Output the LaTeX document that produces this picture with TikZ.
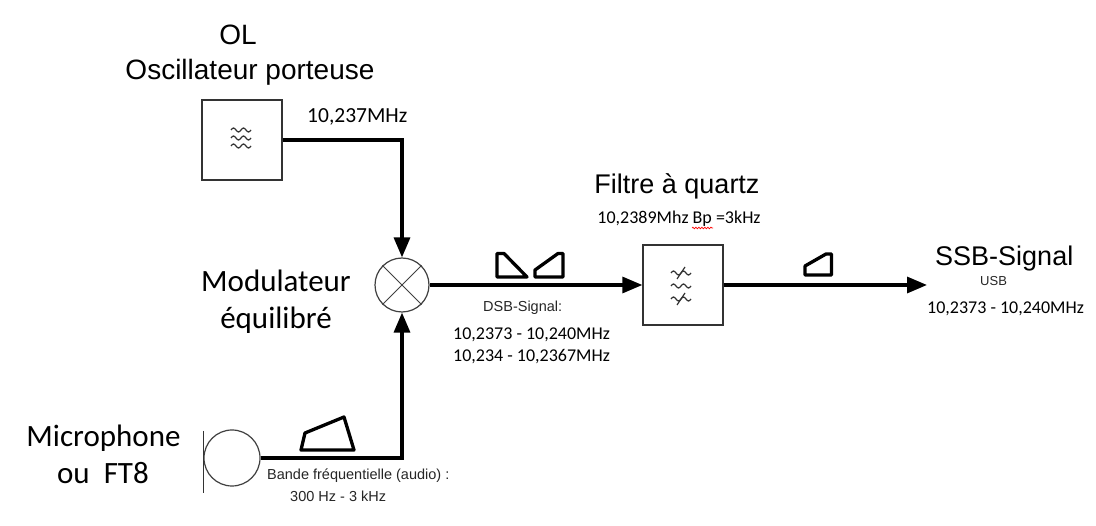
\documentclass[tikz,border=0pt]{standalone}
\usepackage{fontspec}
\setmainfont{Carlito}
\newfontfamily\arialfont{Liberation Sans}
\usetikzlibrary{arrows.meta, decorations.pathmorphing}

\tikzset{
    block/.style={draw=black!80, line width=1.3, minimum size=80, inner sep=0},
    wire/.style={line width=3.3},
    band/.style={line width=3.3, line join=round},
    big/.style={font=\fontsize{31}{37}\selectfont},
    arialbig/.style={font=\arialfont\fontsize{28}{34}\selectfont},
    arialmid/.style={font=\arialfont\fontsize{27}{32}\selectfont},
    num/.style={font=\fontsize{18}{22}\selectfont},
    note/.style={font=\arialfont\fontsize{14.5}{17}\selectfont, text=black!85},
    ripple/.pic={\draw[line width=1.2, black!80] (-10,0) sin (-7.5,-2) cos (-5,0) sin (-2.5,2) cos (0,0) sin (2.5,-2) cos (5,0) sin (7.5,2) cos (10,0);},
    slash/.pic={\draw[line width=1.2, black!80] (-4,6) -- (4,-6);}
}

\begin{document}
\begin{tikzpicture}[x=1pt, y=-1pt, >={Triangle[length=20pt, width=16pt]}, inner sep=0]
    \path[fill=white, use as bounding box] (0,0) rectangle (1096,526);

    % blocks
    \node[block] (osc) at (242,140) {};
    \node[block] (filt) at (683,285) {};
    \node[circle, draw=black!75, line width=1.2, minimum size=54] (mix) at (402,285) {};
    \node[circle, draw=black!75, line width=1.2, minimum size=56] (mic) at (232,458) {};
    \coordinate (ssb) at (927,285);

    % symbols
    \draw[line width=1, black!75] (mix.north west) -- (mix.south east) (mix.north east) -- (mix.south west);
    \draw[line width=1.2, black!80] (mic.west) ++(0,-27) -- ++(0,62);
    \foreach \dy in {-8,0,8}
        \path (osc) ++(-1,\dy-2) pic {ripple};
    \foreach \dy in {-13,0,13}
        \path (filt) ++(-2,\dy+1) pic {ripple};
    \path (filt) ++(-2,-12) pic {slash} (filt) ++(-2,14) pic {slash};

    % connectors
    \draw[wire,->] (osc.east) -| (mix.north);
    \draw[wire,->] (mic.east) -| (mix.south);
    \draw[wire,->] (mix.east) -- (filt.west);
    \draw[wire,->] (filt.east) -- (ssb);

    % spectra
    \draw[band] (305,433) -- (344,417) -- (354,450) -- (301,450) -- cycle;
    \draw[band] (497,253.5) -- (504,253.5) -- (527,277) -- (497,277) -- cycle;
    \draw[band] (535,277) -- (535,270) -- (558,253.5) -- (563,253.5) -- (563,277) -- cycle;
    \draw[band] (805,275) -- (805,266) -- (826,254) -- (831.5,254) -- (831.5,275) -- cycle;

    % labels
    \node[arialbig, anchor=base] (olname) at (238,45) {OL};
    \node[arialbig, anchor=base] (oscname) at (250,80) {Oscillateur porteuse};
    \node[font=\fontsize{21.5}{26}\selectfont, anchor=base west] (olfreq) at (307,123) {10,237MHz};
    \node[big, anchor=base] (modname) at (276,292) {Modulateur};
    \node[big, anchor=base] (modkind) at (276,328.5) {équilibré};
    \node[big, anchor=base] (micname) at (103.5,446.7) {Microphone};
    \node[big, anchor=base] (micalt) at (103,484) {ou~~FT8};
    \node[arialmid, anchor=base] (filtname) at (677,193.3) {Filtre à quartz};
    \node[num, anchor=base] (filtfreq) at (679,224) {10,2389Mhz Bp =3kHz};
    \draw[red, line width=0.7, decorate, decoration={snake, amplitude=0.8, segment length=3}] (692,228) -- (713,228);
    \node[note, anchor=base west] (dsbname) at (483,312) {DSB-Signal:};
    \node[num, anchor=base west] (dsbupper) at (453,340) {10,2373 - 10,240MHz};
    \node[num, anchor=base west] (dsblower) at (453,361.7) {10,234 - 10,2367MHz};
    \node[arialmid, anchor=base west] (ssbname) at (935,266) {SSB-Signal};
    \node[font=\arialfont\fontsize{13}{15}\selectfont, text=black!85, anchor=base west] (ssbside) at (980,286) {USB};
    \node[num, anchor=base west] (ssbfreq) at (927,313.3) {10,2373 - 10,240MHz};
    \node[note, anchor=base west] (audioband) at (267,480) {Bande fréquentielle (audio) :};
    \node[note, anchor=base west] (audiorange) at (290,502) {300 Hz - 3 kHz};
\end{tikzpicture}
\end{document}
